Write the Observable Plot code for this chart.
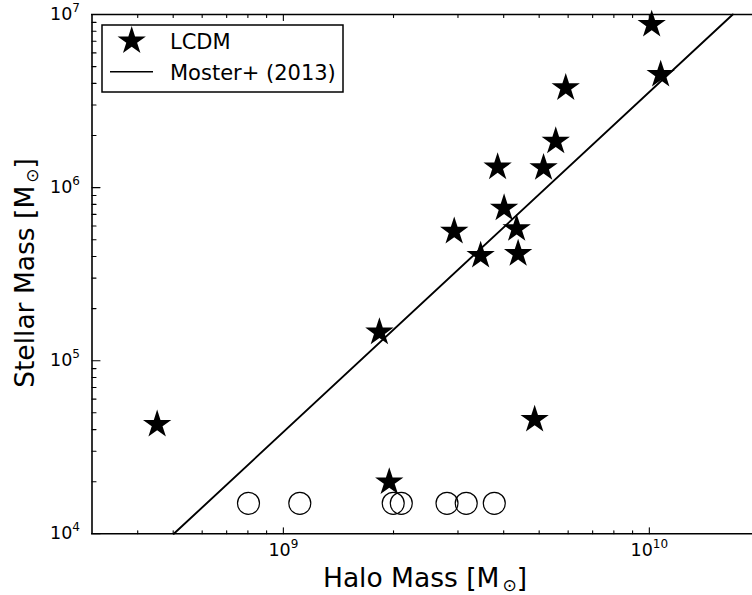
<!DOCTYPE html>
<html>
<head>
<meta charset="utf-8">
<script src="https://cdn.jsdelivr.net/npm/d3@7"></script>
<script src="https://cdn.jsdelivr.net/npm/@observablehq/plot@0.6"></script>
<style>
  html, body { margin: 0; padding: 0; background: #fff; overflow: hidden; }
  #chart { position: relative; width: 752px; height: 595px; overflow: hidden; }
</style>
</head>
<body>
<div id="chart"></div>
<script>
// Simulated dwarf galaxies (LCDM): halo mass and stellar mass, in solar masses
const haloMass = [4.52e8, 1.83e9, 1.947e9, 2.93e9, 3.46e9, 3.85e9, 4.01e9, 4.34e9, 4.38e9, 4.86e9, 5.14e9, 5.55e9, 5.91e9, 1.015e10, 1.074e10];
const stellarMass = [4.28e4, 1.461e5, 1.99e4, 5.58e5, 4.05e5, 1.312e6, 7.6e5, 5.78e5, 4.15e5, 4.57e4, 1.301e6, 1.853e6, 3.77e6, 8.75e6, 4.5e6];

// Halos that formed no stars, drawn as open circles along a floor value
const darkHaloMass = [8.03e8, 1.109e9, 1.996e9, 2.10e9, 2.80e9, 3.16e9, 3.77e9];
const darkStellarFloor = 1.5e4;

// Moster+ (2013) relation, end points across the frame
const mosterHalo = [5.02e8, 1.69e10];
const mosterStellar = [1e4, 1e7];

// Axis extents and ticks
const xDomain = [3e8, 2e10];
const yDomain = [1e4, 1e7];
const xMajor = [1e9, 1e10];
const yMajor = [1e4, 1e5, 1e6, 1e7];
const minorSteps = [2, 3, 4, 5, 6, 7, 8, 9];
const xMinor = [1e8, 1e9, 1e10].flatMap(d => minorSteps.map(k => k * d)).filter(v => v > xDomain[0] && v < xDomain[1]);
const yMinor = [1e4, 1e5, 1e6].flatMap(d => minorSteps.map(k => k * d));

const stars = haloMass.map((h, i) => ({halo: h, stellar: stellarMass[i]}));
const dark = darkHaloMass.map(h => ({halo: h, stellar: darkStellarFloor}));
const moster = mosterHalo.map((h, i) => ({halo: h, stellar: mosterStellar[i]}));

const powLabel = d => "10^" + Math.round(Math.log10(d));

// a plain straight tick, drawn from the anchor point along the vector direction
const tickShape = {draw(context, l) { context.moveTo(0, 0); context.lineTo(0, -l); }};
const ink = "#000";
const tick = (data, y, x, rotate, length) =>
  Plot.vector(data, {x, y, rotate, length, anchor: "start", shape: tickShape, stroke: ink, strokeWidth: 1.1});

const chart = Plot.plot({
  width: 752,
  height: 595,
  marginLeft: 91,
  marginRight: 0,
  marginTop: 14,
  marginBottom: 62,
  style: {fontFamily: "'DejaVu Sans', sans-serif", background: "#fff", color: ink},
  x: {type: "log", domain: xDomain, range: [91.5, 759], axis: null},
  y: {type: "log", domain: yDomain, range: [533.3, 14], axis: null},
  marks: [
    Plot.line(moster, {x: "halo", y: "stellar", stroke: ink, strokeWidth: 1.9}),
    Plot.dot(stars, {x: "halo", y: "stellar", symbol: "star", r: 8.9, fill: ink, stroke: "none"}),
    Plot.dot(dark, {x: "halo", y: "stellar", symbol: "circle", r: 11, fill: "none", stroke: ink, strokeWidth: 1.2}),

    // frame spines (right spine lies just beyond the visible width)
    Plot.ruleY([yDomain[0]], {stroke: ink, strokeWidth: 1.6}),
    Plot.ruleY([yDomain[1]], {stroke: ink, strokeWidth: 1.6}),
    Plot.ruleX([xDomain[0]], {stroke: ink, strokeWidth: 1.6}),

    // inward ticks on bottom, top and left
    tick(xMajor, yDomain[0], d => d, 0, 6),
    tick(xMinor, yDomain[0], d => d, 0, 3),
    tick(xMajor, yDomain[1], d => d, 180, 6),
    tick(xMinor, yDomain[1], d => d, 180, 3),
    tick(yMajor, d => d, xDomain[0], 90, 8),
    tick(yMinor, d => d, xDomain[0], 90, 4),

    // tick labels
    Plot.text(xMajor, {x: d => d, y: yDomain[0], dy: 17, text: powLabel, fontSize: 17.5, fill: ink}),
    Plot.text(yMajor, {x: xDomain[0], y: d => d, dx: -12, textAnchor: "end", text: powLabel, fontSize: 17.5, fill: ink})
  ]
});

document.getElementById("chart").appendChild(chart);
const svg = d3.select(chart);

// turn "10^n" labels into a base with a raised exponent
svg.selectAll("text").each(function () {
  const m = this.textContent.match(/^10\^(\d+)$/);
  if (!m) return;
  const t = d3.select(this);
  t.text(null);
  t.append("tspan").text("10");
  t.append("tspan").attr("font-size", 12).attr("dy", -8).text(m[1]);
});

// axis titles with a subscript solar symbol
function title(sel, main, x, y, rotate) {
  const t = sel.append("text")
    .attr("transform", `translate(${x},${y})` + (rotate ? ` rotate(${rotate})` : ""))
    .attr("text-anchor", "middle")
    .attr("font-size", 26.5)
    .attr("fill", ink);
  t.append("tspan").text(main);
  t.append("tspan").attr("font-size", 17).attr("dx", 3).attr("dy", 4).text("\u2299");
  t.append("tspan").attr("dy", -4).text("]");
}
title(svg, "Halo Mass [M", 425, 587, 0);
title(svg, "Stellar Mass [M", 34, 273, -90);

// legend box
const lg = svg.append("g").attr("text-anchor", "start");
lg.append("rect").attr("x", 102).attr("y", 25).attr("width", 241).attr("height", 67)
  .attr("fill", "#fff").attr("stroke", ink).attr("stroke-width", 1.5);
lg.append("path").attr("d", d3.symbol(d3.symbolStar, Math.PI * 8.9 * 8.9)())
  .attr("transform", "translate(131.7,41)").attr("fill", ink);
lg.append("line").attr("x1", 110).attr("x2", 153).attr("y1", 71.7).attr("y2", 71.7)
  .attr("stroke", ink).attr("stroke-width", 1.5);
lg.append("text").attr("x", 170).attr("y", 49).attr("font-size", 21).attr("fill", ink).text("LCDM");
lg.append("text").attr("x", 170).attr("y", 80).attr("font-size", 21).attr("fill", ink).text("Moster+ (2013)");
</script>
</body>
</html>
